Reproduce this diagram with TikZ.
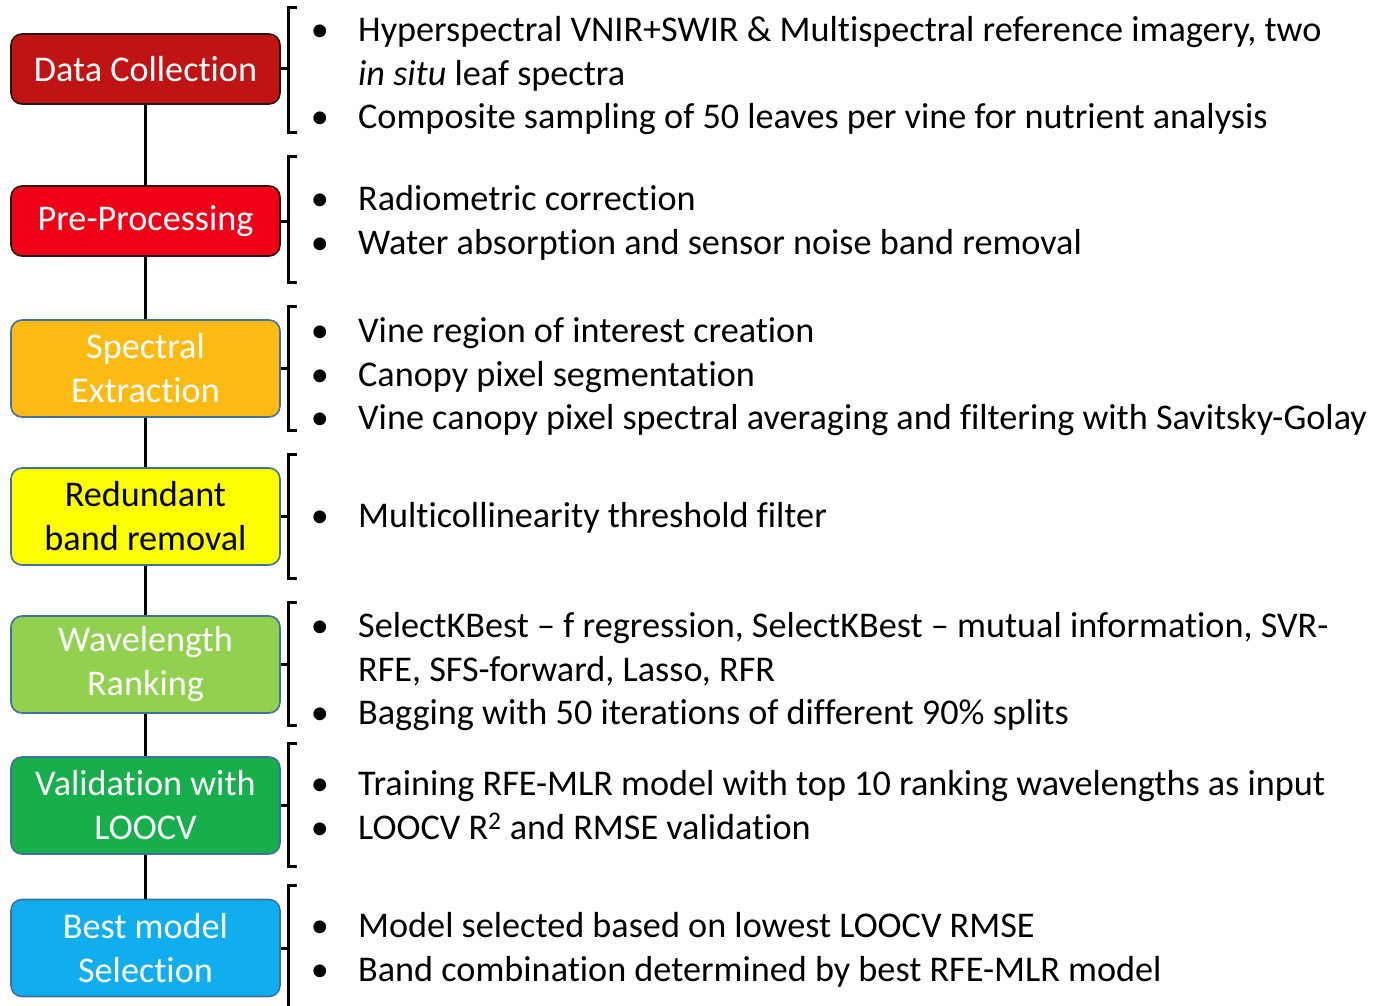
\documentclass[tikz,border=0pt]{standalone}
\usepackage{fontspec}
\setmainfont{Carlito}[Ligatures=NoCommon]
\definecolor{cDC}{RGB}{192,20,20}
\definecolor{cPP}{RGB}{240,0,22}
\definecolor{cSE}{RGB}{252,186,18}
\definecolor{cRB}{RGB}{255,255,0}
\definecolor{cWR}{RGB}{146,208,80}
\definecolor{cVL}{RGB}{22,175,75}
\definecolor{cBM}{RGB}{16,174,239}
\definecolor{bdark}{RGB}{40,20,20}
\definecolor{bblue}{RGB}{65,113,156}
\begin{document}
\begin{tikzpicture}[x=1pt,y=-1pt,
  stage/.style={line width=1.6pt, rounded corners=11pt, minimum width=269pt,
    align=center, inner sep=0pt, font=\fontsize{36.2}{44}\selectfont},
  one/.style={stage, minimum height=70pt},
  two/.style={stage, minimum height=97pt},
  link/.style={line width=3.8pt},
  brk/.style={line width=3pt},
  item/.style={anchor=base west, inner sep=0pt, font=\fontsize{36.2}{44}\selectfont},
  dot/.style={anchor=base, inner sep=0pt, font=\fontsize{36.2}{44}\selectfont}]
\useasboundingbox (0,0) rectangle (1382,1006);

% stages
\node[one, draw=bdark, fill=cDC, text=white] (b1) at (145.5,69) {Data Collection};
\node[one, draw=bdark, fill=cPP, text=white] (b2) at (145.5,221) {Pre-Processing};
\node[two, draw=bblue, fill=cSE, text=white] (b3) at (145.5,368.5) {Spectral\\Extraction};
\node[two, draw=bblue, fill=cRB, text=black] (b4) at (145.5,516.5) {Redundant\\band removal};
\node[two, draw=bblue, fill=cWR, text=white] (b5) at (145.5,664.5) {Wavelength\\Ranking};
\node[two, draw=bblue, fill=cVL, text=white] (b6) at (145.5,805.5) {Validation with\\LOOCV};
\node[two, draw=bblue, fill=cBM, text=white] (b7) at (145.5,948) {Best model\\Selection};

% connectors
\draw[link] (b1.south) -- (b2.north);
\draw[link] (b2.south) -- (b3.north);
\draw[link] (b3.south) -- (b4.north);
\draw[link] (b4.south) -- (b5.north);
\draw[link] (b5.south) -- (b6.north);
\draw[link] (b6.south) -- (b7.north);

% brackets
\coordinate (k1) at (288,69);
\coordinate (k2) at (288,221);
\coordinate (k3) at (288,368.5);
\coordinate (k4) at (288,516.5);
\coordinate (k5) at (288,664.5);
\coordinate (k6) at (288,805.5);
\coordinate (k7) at (288,948);
\draw[brk] (297,8) -- (288,8) -- (288,133) -- (297,133);
\draw[brk] (297,157) -- (288,157) -- (288,282) -- (297,282);
\draw[brk] (297,306) -- (288,306) -- (288,430) -- (297,430);
\draw[brk] (297,454) -- (288,454) -- (288,578) -- (297,578);
\draw[brk] (297,602) -- (288,602) -- (288,725) -- (297,725);
\draw[brk] (297,743) -- (288,743) -- (288,866) -- (297,866);
\draw[brk] (297,885) -- (288,885) -- (288,1006);
\draw[brk] (b1.east) -- (k1);
\draw[brk] (b2.east) -- (k2);
\draw[brk] (b3.east) -- (k3);
\draw[brk] (b4.east) -- (k4);
\draw[brk] (b5.east) -- (k5);
\draw[brk] (b6.east) -- (k6);
\draw[brk] (b7.east) -- (k7);

% bullets
\node[dot] (d1a) at (320,42) {\textbullet};
\node[dot] (d1b) at (320,129) {\textbullet};
\node[dot] (d2a) at (320,210) {\textbullet};
\node[dot] (d2b) at (320,254) {\textbullet};
\node[dot] (d3a) at (320,342) {\textbullet};
\node[dot] (d3b) at (320,386) {\textbullet};
\node[dot] (d3c) at (320,429) {\textbullet};
\node[dot] (d4a) at (320,527) {\textbullet};
\node[dot] (d5a) at (320,637) {\textbullet};
\node[dot] (d5b) at (320,724) {\textbullet};
\node[dot] (d6a) at (320,795) {\textbullet};
\node[dot] (d6b) at (320,839) {\textbullet};
\node[dot] (d7a) at (320,937) {\textbullet};
\node[dot] (d7b) at (320,981) {\textbullet};

% texts
\node[item] (t1a) at (358,42) {Hyperspectral VNIR+SWIR \& Multispectral reference imagery, two};
\node[item] (t1b) at (358,86) {\textit{in situ} leaf spectra};
\node[item] (t1c) at (358,129) {Composite sampling of 50 leaves per vine for nutrient analysis};
\node[item] (t2a) at (358,210) {Radiometric correction};
\node[item] (t2b) at (358,254) {Water absorption and sensor noise band removal};
\node[item] (t3a) at (358,342) {Vine region of interest creation};
\node[item] (t3b) at (358,386) {Canopy pixel segmentation};
\node[item] (t3c) at (358,429) {Vine canopy pixel spectral averaging and filtering with Savitsky-Golay};
\node[item] (t4a) at (358,527) {Multicollinearity threshold filter};
\node[item] (t5a) at (358,637) {SelectKBest – f regression, SelectKBest – mutual information, SVR-};
\node[item] (t5b) at (358,681) {RFE, SFS-forward, Lasso, RFR};
\node[item] (t5c) at (358,724) {Bagging with 50 iterations of different 90\% splits};
\node[item] (t6a) at (358,795) {Training RFE-MLR model with top 10 ranking wavelengths as input};
\node[item] (t6b) at (358,839) {LOOCV R\textsuperscript{2} and RMSE validation};
\node[item] (t7a) at (358,937) {Model selected based on lowest LOOCV RMSE};
\node[item] (t7b) at (358,981) {Band combination determined by best RFE-MLR model};
\end{tikzpicture}
\end{document}
